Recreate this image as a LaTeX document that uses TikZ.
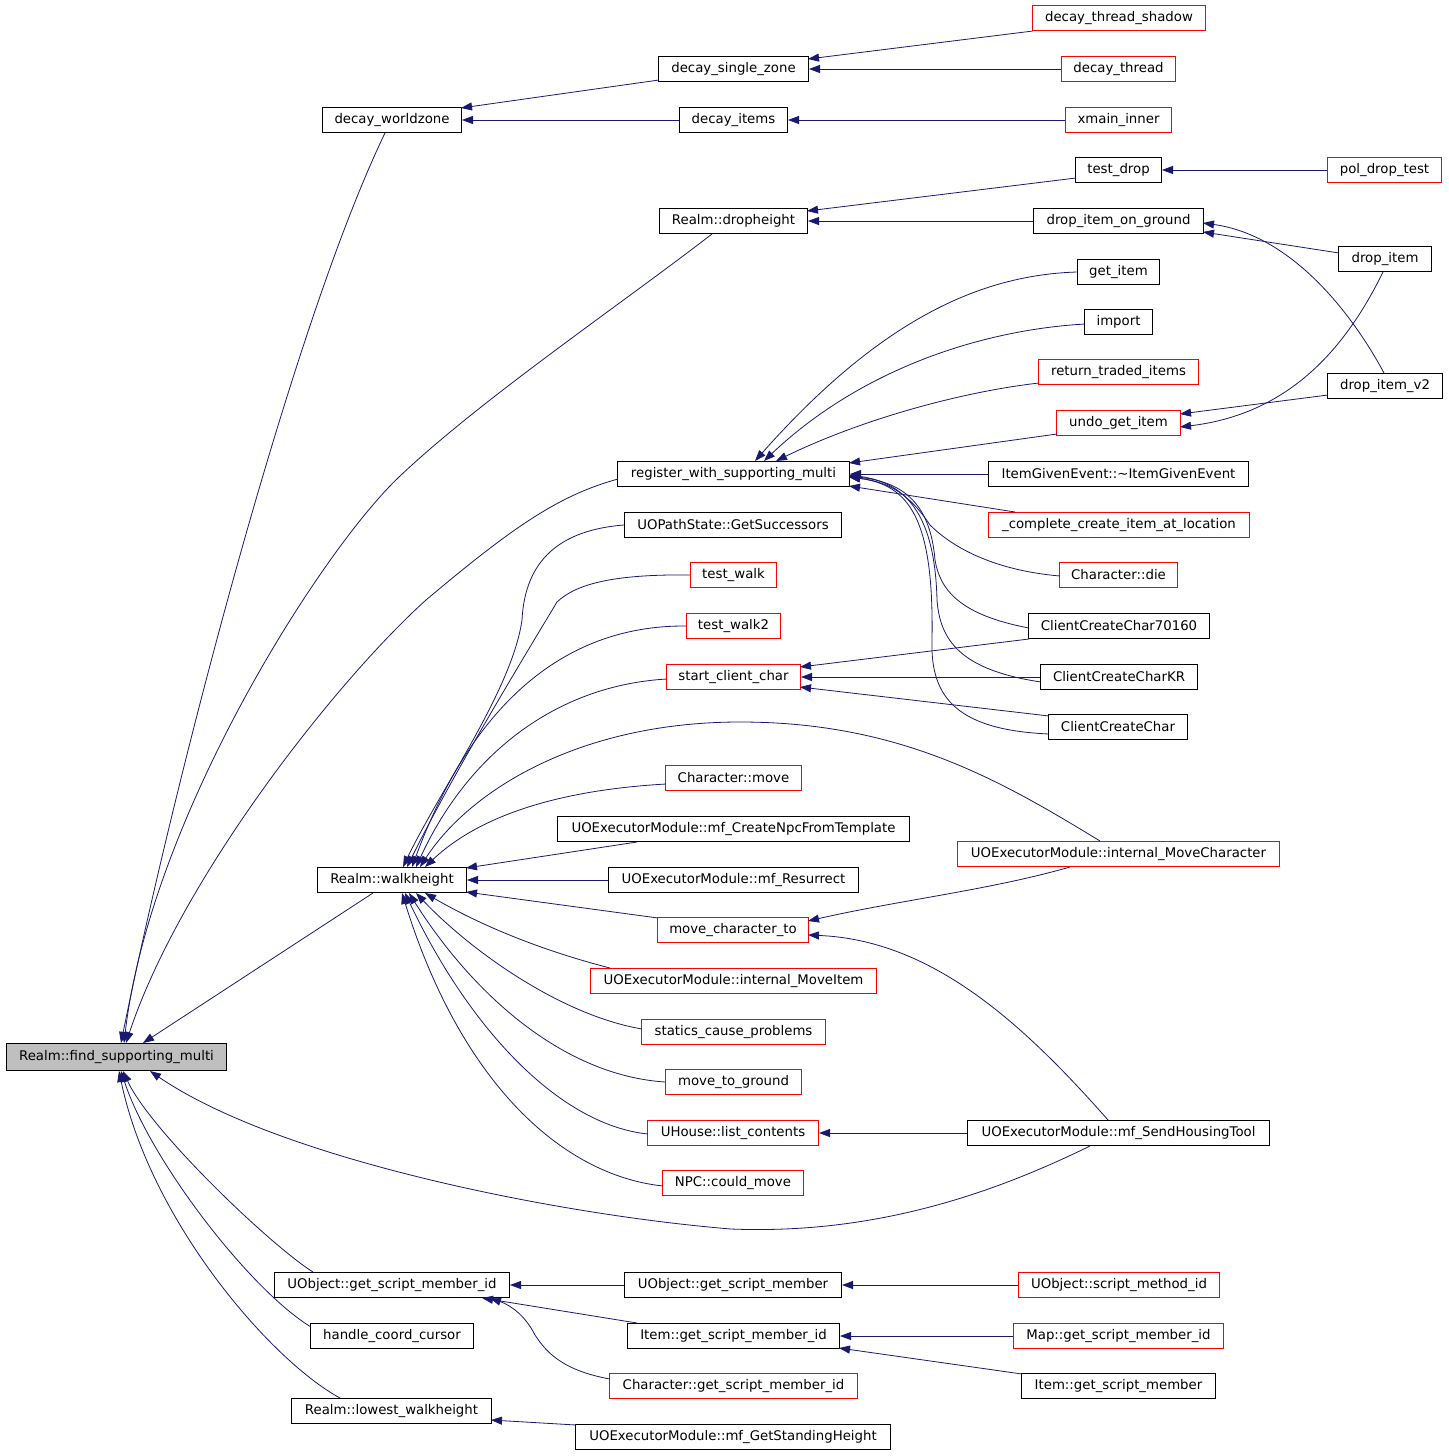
\documentclass[tikz,border=0pt]{standalone}
\usepackage{fontspec}
\setmainfont{DejaVu Sans}
\usetikzlibrary{arrows.meta}
\definecolor{edgeblue}{RGB}{25,25,112}
\definecolor{boxgray}{RGB}{191,191,191}
\tikzset{
  box/.style={draw=black, line width=1pt, rectangle, inner sep=0pt, minimum height=25pt, fill=white, font=\fontsize{13.3}{16}\selectfont, text=black},
  redbox/.style={box, draw=red},
  rootbox/.style={box, fill=boxgray, minimum height=27pt},
  edge/.style={draw=edgeblue, line width=0.8pt, -{Triangle[length=11pt,width=8pt]}}
}
\begin{document}
\begin{tikzpicture}[x=1pt,y=-1pt]
\useasboundingbox[fill=white] (0,0) rectangle (1448,1456);
% column 0
\node[rootbox, minimum width=220pt] (fsm) at (116.5,1057) {Realm::find\_supporting\_multi};
% column 1
\node[box, minimum width=139pt] (dwz) at (392,120) {decay\_worldzone};
\node[box, minimum width=149pt] (walk) at (392,880) {Realm::walkheight};
\node[box, minimum width=235pt] (gsmi) at (392,1285) {UObject::get\_script\_member\_id};
\node[box, minimum width=163pt] (hcc) at (392,1336) {handle\_coord\_cursor};
\node[box, minimum width=200pt] (lwh) at (391.5,1411) {Realm::lowest\_walkheight};
% column 2
\node[box, minimum width=150pt] (dsz) at (733.5,69) {decay\_single\_zone};
\node[box, minimum width=108pt] (ditems) at (733.5,120) {decay\_items};
\node[box, minimum width=148pt] (dropheight) at (733.5,221) {Realm::dropheight};
\node[box, minimum width=232pt] (reg) at (733.5,474) {register\_with\_supporting\_multi};
\node[box, minimum width=217pt] (gs) at (733,525) {UOPathState::GetSuccessors};
\node[redbox, minimum width=86pt] (tw) at (733.5,575) {test\_walk};
\node[redbox, minimum width=94pt] (tw2) at (733.5,626) {test\_walk2};
\node[redbox, minimum width=134pt] (scc) at (733.5,677) {start\_client\_char};
\node[redbox, minimum width=136pt] (cmove) at (733.5,778) {Character::move};
\node[box, minimum width=352pt] (npct) at (733.5,829) {UOExecutorModule::mf\_CreateNpcFromTemplate};
\node[box, minimum width=250pt] (res) at (733.5,880) {UOExecutorModule::mf\_Resurrect};
\node[redbox, minimum width=151pt] (mct) at (733,930) {move\_character\_to};
\node[redbox, minimum width=286pt] (imi) at (733.5,981) {UOExecutorModule::internal\_MoveItem};
\node[redbox, minimum width=184pt] (scp) at (733.5,1032) {statics\_cause\_problems};
\node[redbox, minimum width=136pt] (mtg) at (733.5,1082) {move\_to\_ground};
\node[redbox, minimum width=171pt] (uhl) at (733,1133) {UHouse::list\_contents};
\node[redbox, minimum width=141pt] (npcm) at (733,1183) {NPC::could\_move};
\node[box, minimum width=217pt] (ugsm) at (733,1285) {UObject::get\_script\_member};
\node[box, minimum width=212pt] (igsmi) at (733.5,1336) {Item::get\_script\_member\_id};
\node[redbox, minimum width=248pt] (cgsmi) at (733.5,1386) {Character::get\_script\_member\_id};
\node[box, minimum width=315pt] (gsh) at (733,1437) {UOExecutorModule::mf\_GetStandingHeight};
% column 3
\node[redbox, minimum width=173pt] (dts) at (1119,18) {decay\_thread\_shadow};
\node[redbox, minimum width=114pt] (dt) at (1118.5,69) {decay\_thread};
\node[redbox, minimum width=106pt] (xmi) at (1118.5,120) {xmain\_inner};
\node[box, minimum width=86pt] (tdrop) at (1118.5,170) {test\_drop};
\node[box, minimum width=170pt] (dig) at (1118.5,221) {drop\_item\_on\_ground};
\node[box, minimum width=82pt] (gi) at (1118.5,272) {get\_item};
\node[box, minimum width=68pt] (imp) at (1118.5,322) {import};
\node[redbox, minimum width=160pt] (rti) at (1118.5,372) {return\_traded\_items};
\node[redbox, minimum width=124pt] (ugi) at (1118.5,423) {undo\_get\_item};
\node[box, minimum width=260pt] (ige) at (1118.5,474) {ItemGivenEvent::\textasciitilde ItemGivenEvent};
\node[redbox, minimum width=261pt] (cci) at (1119,525) {\_complete\_create\_item\_at\_location};
\node[redbox, minimum width=118pt] (cdie) at (1118.5,575) {Character::die};
\node[box, minimum width=181pt] (ccc70) at (1119,626) {ClientCreateChar70160};
\node[box, minimum width=157pt] (ccckr) at (1119,677) {ClientCreateCharKR};
\node[box, minimum width=139pt] (ccc) at (1118,727) {ClientCreateChar};
\node[redbox, minimum width=322pt] (imc) at (1118.5,854) {UOExecutorModule::internal\_MoveCharacter};
\node[box, minimum width=302pt] (sht) at (1118.5,1133) {UOExecutorModule::mf\_SendHousingTool};
\node[redbox, minimum width=201pt] (usmi) at (1119,1285) {UObject::script\_method\_id};
\node[redbox, minimum width=210pt] (mgsmi) at (1118.5,1336) {Map::get\_script\_member\_id};
\node[box, minimum width=194pt] (igsm) at (1118.5,1386) {Item::get\_script\_member};
% column 4
\node[redbox, minimum width=114pt] (pdt) at (1384.5,170) {pol\_drop\_test};
\node[box, minimum width=93pt] (ditem) at (1385,259) {drop\_item};
\node[box, minimum width=115pt] (div2) at (1385,386) {drop\_item\_v2};

% ---- edges into find_supporting_multi
\draw[edge] ([shift={(-7,13)}]dwz.center) .. controls (290,330) and (170,800) .. ([shift={(4.5,-14)}]fsm.center);
\draw[edge] ([shift={(-21.5,13)}]dropheight.center) .. controls (620,305) and (480,400) .. (399,477) .. controls (320,552) and (150,820) .. ([shift={(7.5,-14)}]fsm.center);
\draw[edge] ([shift={(-115.5,5)}]reg.center) .. controls (560,495) and (515,525) .. (426,600) .. controls (335,682) and (180,880) .. ([shift={(9.5,-14)}]fsm.center);
\draw[edge] ([shift={(-19,13)}]walk.center) -- ([shift={(26.5,-14)}]fsm.center);
\draw[edge] ([shift={(-28.5,13)}]sht.center) .. controls (1000,1190) and (880,1235) .. (731,1229) .. controls (560,1215) and (280,1160) .. ([shift={(33.5,14)}]fsm.center);
\draw[edge] ([shift={(-79,-13)}]gsmi.center) .. controls (270,1245) and (150,1130) .. ([shift={(6.5,14)}]fsm.center);
\draw[edge] ([shift={(-81,-9)}]hcc.center) .. controls (250,1290) and (150,1160) .. ([shift={(4.5,14)}]fsm.center);
\draw[edge] ([shift={(-51.5,-13)}]lwh.center) .. controls (270,1360) and (150,1220) .. ([shift={(2.5,14)}]fsm.center);

% ---- decay
\draw[edge] ([shift={(-74.5,11)}]dsz.center) -- ([shift={(69,-12)}]dwz.center);
\draw[edge] (ditems.west) -- (dwz.east);
\draw[edge] ([shift={(-86,13)}]dts.center) -- ([shift={(74.5,-10)}]dsz.center);
\draw[edge] (dt.west) -- (dsz.east);
\draw[edge] (xmi.west) -- (ditems.east);

% ---- dropheight
\draw[edge] ([shift={(-42.5,8)}]tdrop.center) -- ([shift={(73.5,-10)}]dropheight.center);
\draw[edge] (dig.west) -- (dropheight.east);
\draw[edge] (pdt.west) -- (tdrop.east);
\draw[edge] ([shift={(-46,-6)}]ditem.center) -- ([shift={(84.5,11)}]dig.center);
\draw[edge] ([shift={(-1,-13)}]div2.center) .. controls (1350,310) and (1290,235) .. ([shift={(84.5,2)}]dig.center);
\draw[edge] ([shift={(-2,13)}]ditem.center) .. controls (1340,360) and (1280,415) .. ([shift={(61.5,4)}]ugi.center);
\draw[edge] ([shift={(-57,9)}]div2.center) -- ([shift={(61.5,-9)}]ugi.center);

% ---- register_with_supporting_multi
\draw[edge] (gi.west) .. controls (980,275) and (880,320) .. ([shift={(21.5,-13)}]reg.center);
\draw[edge] ([shift={(-33.5,2)}]imp.center) .. controls (980,330) and (860,370) .. ([shift={(30.5,-13)}]reg.center);
\draw[edge] ([shift={(-79.5,11)}]rti.center) .. controls (960,392) and (860,420) .. ([shift={(42.5,-13)}]reg.center);
\draw[edge] ([shift={(-61.5,11)}]ugi.center) -- ([shift={(115.5,-11)}]reg.center);
\draw[edge] (ige.west) -- (reg.east);
\draw[edge] ([shift={(-104,-13)}]cci.center) -- ([shift={(115.5,12)}]reg.center);
\draw[edge] ([shift={(-58.5,1)}]cdie.center) .. controls (990,570) and (950,545) .. (930,525) .. controls (910,495) and (890,482) .. ([shift={(115.5,3)}]reg.center);
\draw[edge] ([shift={(-90,2)}]ccc70.center) .. controls (960,615) and (940,590) .. (935,560) .. controls (930,500) and (900,482) .. ([shift={(115.5,2)}]reg.center);
\draw[edge] ([shift={(-78,5)}]ccckr.center) .. controls (960,670) and (940,640) .. (937,600) .. controls (935,520) and (910,483) .. ([shift={(115.5,1)}]reg.center);
\draw[edge] ([shift={(-69,7)}]ccc.center) .. controls (960,730) and (930,700) .. (932,640) .. controls (934,520) and (910,485) .. ([shift={(115.5,3)}]reg.center);

% ---- start_client_char
\draw[edge] ([shift={(-90,13)}]ccc70.center) -- ([shift={(66.5,-10)}]scc.center);
\draw[edge] (ccckr.west) -- (scc.east);
\draw[edge] ([shift={(-69,-11)}]ccc.center) -- ([shift={(66.5,10)}]scc.center);

% ---- walkheight
\draw[edge] (gs.west) .. controls (560,530) and (525,560) .. (522,620) .. controls (512,690) and (440,790) .. ([shift={(11,-13)}]walk.center);
\draw[edge] (tw.west) .. controls (610,574) and (575,585) .. (557,602) .. controls (510,680) and (450,780) .. ([shift={(15,-13)}]walk.center);
\draw[edge] (tw2.west) .. controls (560,625) and (470,710) .. ([shift={(20,-13)}]walk.center);
\draw[edge] ([shift={(-66.5,2)}]scc.center) .. controls (560,685) and (470,750) .. ([shift={(24,-13)}]walk.center);
\draw[edge] ([shift={(-18.5,-13)}]imc.center) .. controls (1000,780) and (900,722) .. (740,722) .. controls (580,722) and (470,790) .. ([shift={(28,-13)}]walk.center);
\draw[edge] ([shift={(-67.5,6)}]cmove.center) .. controls (560,790) and (480,815) .. ([shift={(33,-13)}]walk.center);
\draw[edge] ([shift={(-96.5,13)}]npct.center) -- ([shift={(74,-12)}]walk.center);
\draw[edge] (res.west) -- (walk.east);
\draw[edge] ([shift={(-75,-12)}]mct.center) -- ([shift={(74,12)}]walk.center);
\draw[edge] ([shift={(-123.5,-13)}]imi.center) .. controls (540,950) and (480,925) .. ([shift={(33,13)}]walk.center);
\draw[edge] ([shift={(-91.5,-3)}]scp.center) .. controls (560,1015) and (470,950) .. ([shift={(24,13)}]walk.center);
\draw[edge] (mtg.west) .. controls (560,1075) and (470,990) .. ([shift={(17,13)}]walk.center);
\draw[edge] ([shift={(-85,1)}]uhl.center) .. controls (560,1125) and (470,1030) .. ([shift={(13,13)}]walk.center);
\draw[edge] ([shift={(-70,3)}]npcm.center) .. controls (560,1175) and (460,1080) .. ([shift={(10,13)}]walk.center);

% ---- move_character_to / list_contents
\draw[edge] ([shift={(-48.5,13)}]imc.center) .. controls (990,890) and (900,900) .. ([shift={(75,-9)}]mct.center);
\draw[edge] ([shift={(-10.5,-13)}]sht.center) .. controls (1020,1020) and (930,940) .. ([shift={(75,5)}]mct.center);
\draw[edge] (sht.west) -- (uhl.east);

% ---- script member ids
\draw[edge] (ugsm.west) -- (gsmi.east);
\draw[edge] ([shift={(-96.5,-13)}]igsmi.center) -- ([shift={(90,13)}]gsmi.center);
\draw[edge] ([shift={(-123.5,-7)}]cgsmi.center) .. controls (560,1370) and (545,1350) .. (535,1335) .. controls (525,1315) and (510,1305) .. ([shift={(98,13)}]gsmi.center);
\draw[edge] (usmi.west) -- (ugsm.east);
\draw[edge] (mgsmi.west) -- (igsmi.east);
\draw[edge] ([shift={(-96.5,-12)}]igsm.center) -- ([shift={(105.5,12)}]igsmi.center);
\draw[edge] ([shift={(-157,-12)}]gsh.center) -- ([shift={(99.5,9)}]lwh.center);
\end{tikzpicture}
\end{document}
